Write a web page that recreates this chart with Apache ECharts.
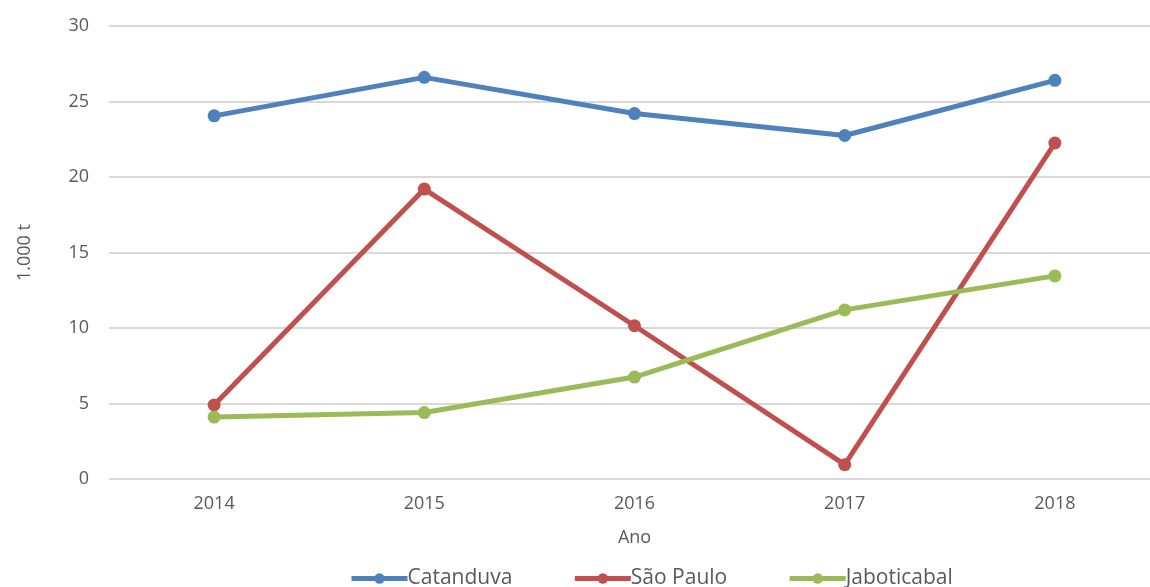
<!DOCTYPE html>
<html>
<head>
<meta charset="utf-8">
<script src="https://cdn.jsdelivr.net/npm/echarts@6/dist/echarts.min.js"></script>
<style>
  html, body { margin: 0; padding: 0; background: #fff; overflow: hidden; }
  /* a área do gráfico continua um pouco além da borda direita, como no original */
  #chart { width: 1160px; height: 587px; }
</style>
</head>
<body>
<div id="chart"></div>
<script>
// dados (1.000 t)
var anos = ['2014', '2015', '2016', '2017', '2018'];
var catanduva = [24.05, 26.6, 24.2, 22.75, 26.4];
var saoPaulo = [4.9, 19.2, 10.15, 0.95, 22.25];
var jaboticabal = [4.1, 4.4, 6.75, 11.2, 13.45];

var fonte = '"Open Sans", "Noto Sans", sans-serif';
var cinza = '#595959';

function serie(nome, dados, cor) {
  return {
    name: nome,
    type: 'line',
    data: dados,
    symbol: 'circle',
    symbolSize: 13,
    lineStyle: {width: 5, color: cor},
    itemStyle: {color: cor},
    emphasis: {disabled: true}
  };
}

var chart = echarts.init(document.getElementById('chart'));
chart.setOption({
  animation: false,
  grid: {left: 109, top: 26, right: 0, height: 453},
  legend: {
    top: 563,
    left: 344,
    itemGap: 60,
    itemWidth: 56,
    itemHeight: 13,
    lineStyle: {width: 5},
    textStyle: {fontFamily: fonte, fontSize: 21, color: cinza, padding: [0, 0, 0, -5]},
    data: ['Catanduva', 'São Paulo', 'Jaboticabal']
  },
  xAxis: {
    type: 'category',
    data: anos,
    boundaryGap: true,
    name: 'Ano',
    nameLocation: 'middle',
    nameGap: 50,
    nameTextStyle: {fontFamily: fonte, fontSize: 18, color: cinza},
    axisLine: {show: false},
    axisTick: {show: false},
    axisLabel: {fontFamily: fonte, fontSize: 18, color: cinza, margin: 16}
  },
  yAxis: {
    type: 'value',
    min: 0,
    max: 30,
    interval: 5,
    name: '1.000 t',
    nameLocation: 'middle',
    nameGap: 75,
    nameTextStyle: {fontFamily: fonte, fontSize: 18, color: cinza},
    axisLine: {show: false},
    axisTick: {show: false},
    axisLabel: {fontFamily: fonte, fontSize: 18, color: cinza, margin: 20},
    splitLine: {lineStyle: {color: '#d9d9d9', width: 2}}
  },
  series: [
    serie('Catanduva', catanduva, '#4f81bd'),
    serie('São Paulo', saoPaulo, '#c0504d'),
    serie('Jaboticabal', jaboticabal, '#9bbb59')
  ]
});
</script>
</body>
</html>
